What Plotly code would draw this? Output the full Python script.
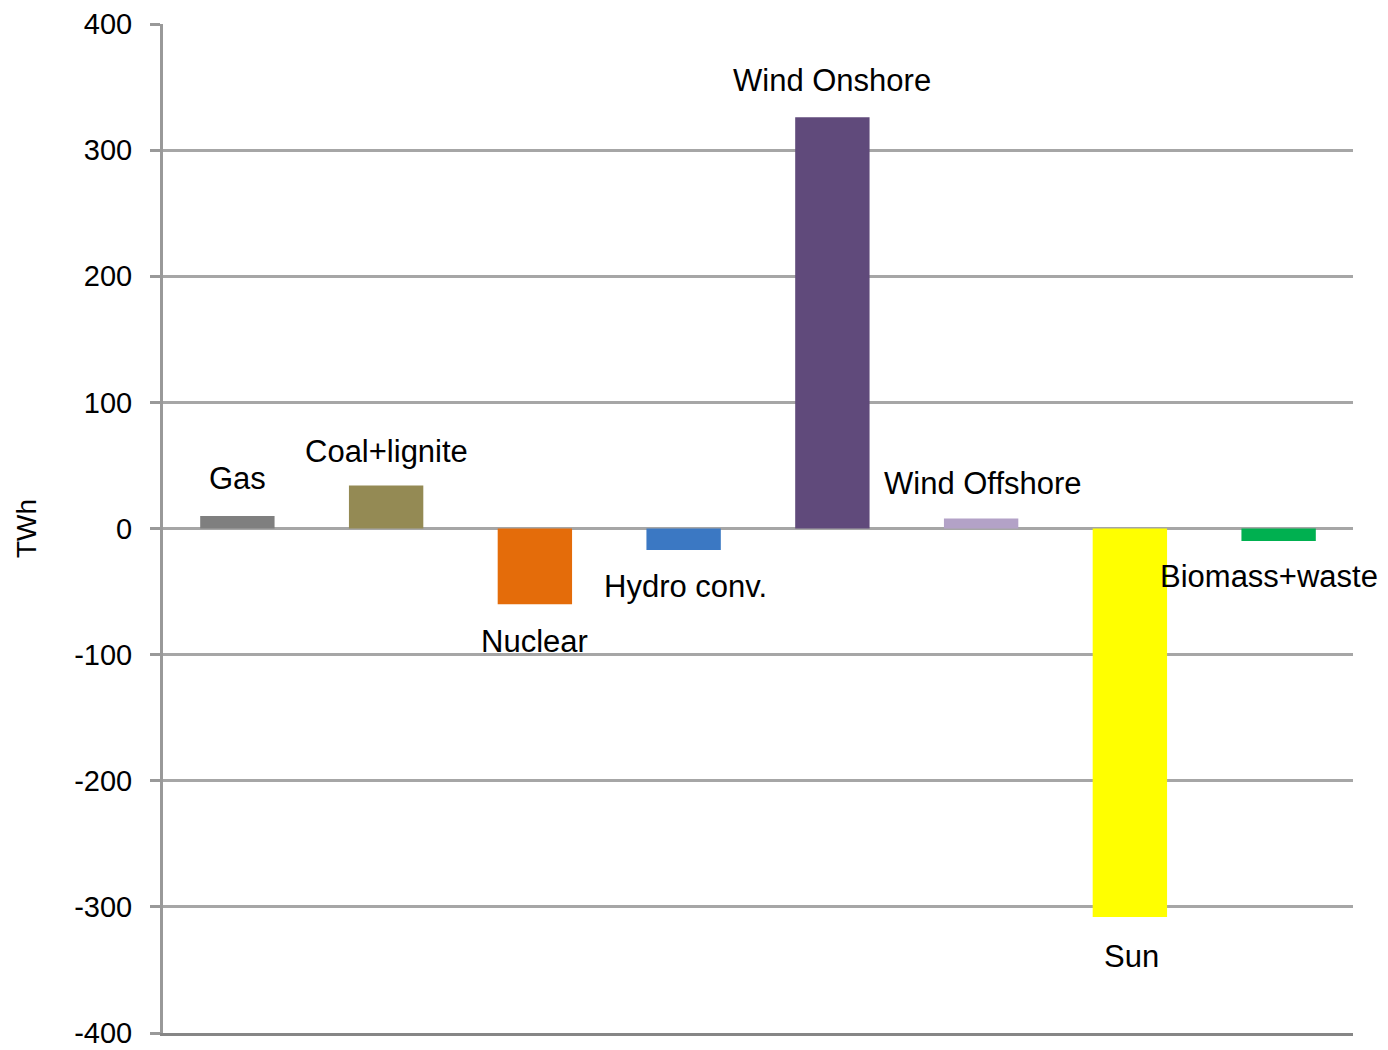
import plotly.graph_objects as go

categories = ["Gas", "Coal+lignite", "Nuclear", "Hydro conv.", "Wind Onshore",
              "Wind Offshore", "Sun", "Biomass+waste"]
values = [10, 34, -60, -17, 326, 8, -308, -10]
colors = ["#7f7f7f", "#948a54", "#e46c0a", "#3b78c3", "#604a7b",
          "#b3a2c7", "#ffff00", "#00b050"]
tick_vals = [-400, -300, -200, -100, 0, 100, 200, 300, 400]
tick_text = ["-400", "-300", "-200", "-100", "0", "100", "200", "300", "400"]

# label offsets in pixels to mimic Excel data-label placement
label_dx = [0, 0, 0, 2, 0, 2, 2, -10]
label_dy = [37, 34, -37, -37, 37, 35, -40, -35]

fig = go.Figure()
fig.add_trace(go.Bar(
    x=list(range(len(categories))), y=values,
    marker=dict(color=colors, line=dict(width=0)),
    width=0.5, showlegend=False,
))

for i, (c, v) in enumerate(zip(categories, values)):
    fig.add_annotation(
        x=i, y=v, text=c, showarrow=False,
        yanchor="middle", xanchor="center",
        xshift=label_dx[i], yshift=label_dy[i],
        font=dict(family="Liberation Sans, Arial", size=31, color="#000000"),
    )

fig.update_layout(
    width=1388, height=1050,
    margin=dict(l=163, r=35, t=24, b=17),
    plot_bgcolor="white", paper_bgcolor="white",
    font=dict(family="Liberation Sans, Arial", size=28, color="#000000"),
    bargap=0.5,
)
fig.update_xaxes(
    range=[-0.5, 7.5], showticklabels=False, showgrid=False, zeroline=False,
    showline=True, linecolor="#868686", linewidth=3, mirror=False, ticks="",
    automargin=False,
)
fig.update_yaxes(
    range=[-400, 400], tickmode="array", tickvals=tick_vals, ticktext=tick_text,
    showgrid=True, gridcolor="#a6a6a6", automargin=False,
    gridwidth=3, zeroline=True, zerolinecolor="#a6a6a6", zerolinewidth=3,
    showline=True, linecolor="#999999", linewidth=3, ticks="outside",
    ticklen=10, tickcolor="#999999", tickwidth=3, ticklabelstandoff=12,
    ticklabeloverflow="allow",
    title=dict(text="TWh", standoff=30, font=dict(size=28)),
    tickfont=dict(size=29),
)
fig.write_html("out.html")
